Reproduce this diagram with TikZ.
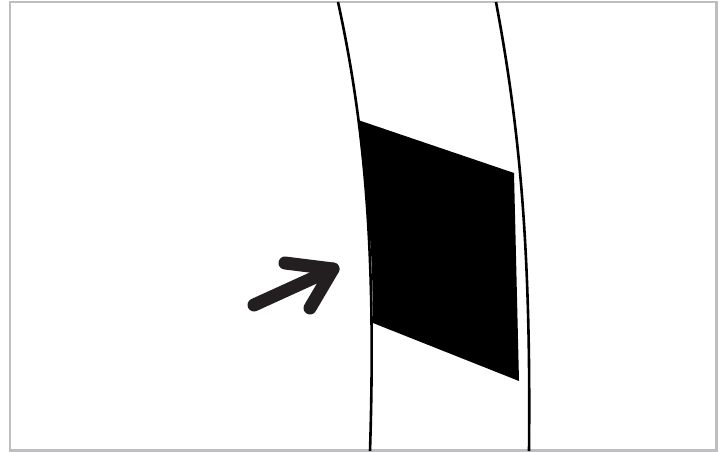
\documentclass[tikz,border=0pt]{standalone}
\begin{document}
\begin{tikzpicture}[x=1pt,y=-1pt]
        \useasboundingbox (0,0) rectangle (725,452);
        % frame
        \draw[line width=2.5, color={rgb,255:red,190;green,190;blue,192}] (10,2) rectangle (716.5,450.5);

        % black patch
        \fill[black] (358,120) -- (514,173) -- (519,381) -- (373,323) .. controls (372,250) .. (358,120) -- cycle;

        % the two edges
        \draw[line width=2.6] (338,2) .. controls (366,130) and (376,260) .. (370,451);
        \draw[line width=2.6] (496,2) .. controls (520,130) and (531,250) .. (529,451);

        % the arrow
        \draw[line width=13, line cap=round, line join=round, color={rgb,255:red,35;green,31;blue,32}] (254,305) -- (333,269);
        \draw[line width=13, line cap=round, line join=round, color={rgb,255:red,35;green,31;blue,32}] (285,263) -- (333,269) -- (310,308);
    \end{tikzpicture}
\end{document}
